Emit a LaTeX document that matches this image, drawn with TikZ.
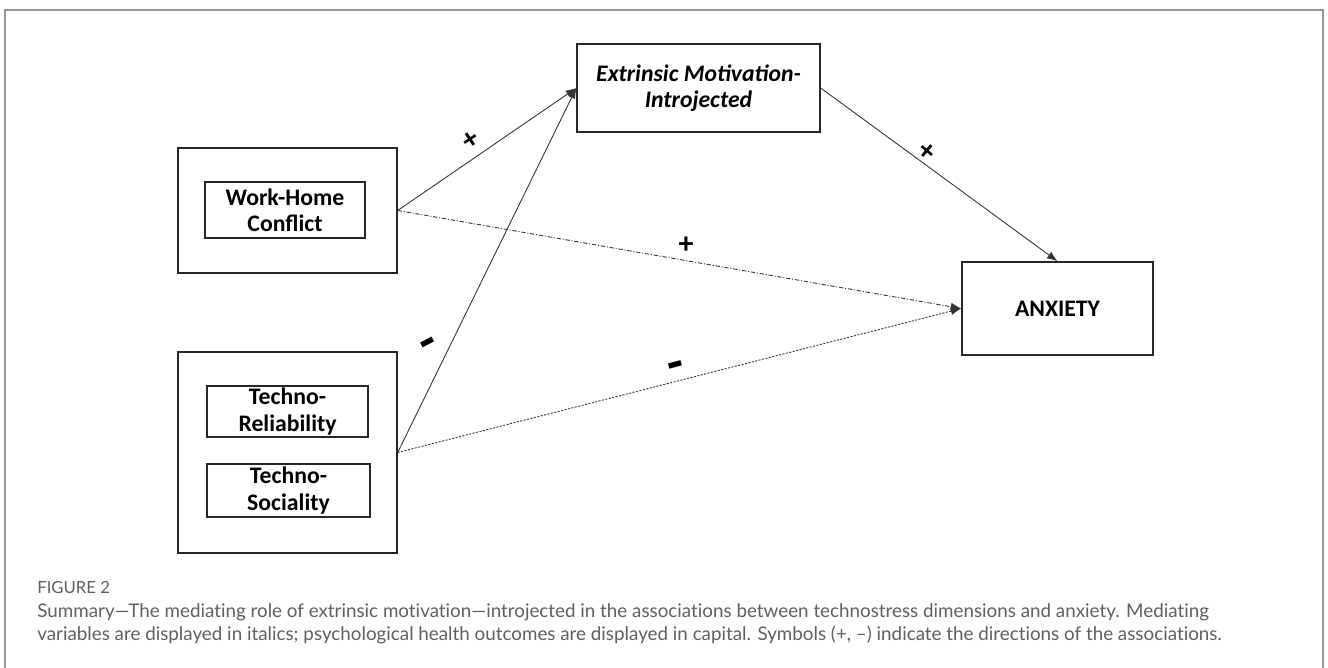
\documentclass[tikz,border=0pt]{standalone}
\usepackage{fontspec}
\setmainfont{Carlito}
\newfontfamily\capfont{Lato}[Ligatures=NoCommon]
\usetikzlibrary{arrows.meta}
\definecolor{capgray}{RGB}{95,95,95}
\definecolor{framegray}{RGB}{150,150,150}
\tikzset{
 box/.style={draw=black!85,line width=0.8pt,inner sep=0pt,align=center},
 arr/.style={draw=black!80,line width=0.5pt,-{Latex[length=6pt,width=4.5pt]}},
 dashdot/.style={dash pattern=on 2.5pt off 1pt on 0.6pt off 1pt},
 dotline/.style={dash pattern=on 1.2pt off 0.8pt},
 sign/.style={inner sep=0pt,font=\fontsize{17}{17}\selectfont\bfseries},
 bar/.style={inner sep=0pt,font=\fontsize{30}{30}\selectfont\bfseries},
 captext/.style={anchor=base west,inner sep=0pt,text=capgray,font=\capfont\fontsize{10.7}{12}\selectfont}
}
\begin{document}
\begin{tikzpicture}[x=0.02cm,y=-0.02cm,font=\fontsize{13.5}{15}\selectfont\bfseries]
\useasboundingbox (0,0) rectangle (1328,668);
\draw[framegray,line width=0.6pt] (5,668) -- (5,10) -- (1323,10) -- (1323,668);
%
\node[box,minimum width=4.38cm,minimum height=2.5cm] (whcout) at (287.5,210.5) {};
\node[box,minimum width=3.2cm,minimum height=1.12cm] (whc) at (285,210) {Work-Home\\Conflict};
%
\node[box,minimum width=4.38cm,minimum height=4.02cm] (tecout) at (287.5,452.5) {};
\node[box,minimum width=3.22cm,minimum height=1.02cm] (trel) at (287.5,411.5) {Techno-\\Reliability};
\node[box,minimum width=3.26cm,minimum height=1.06cm] (tsoc) at (288.5,490.5) {Techno-\\Sociality};
%
\node[box,minimum width=4.86cm,minimum height=1.76cm,font=\fontsize{13.5}{15}\selectfont\bfseries\itshape] (emi) at (698.5,88) {Extrinsic Motivation-\\Introjected};
\node[box,minimum width=3.82cm,minimum height=1.86cm] (anx) at (1057.5,308.5) {ANXIETY};
%
\draw[arr] (whcout.east) -- (emi.west);
\draw[arr] (tecout.east) -- (emi.west);
\draw[arr] (emi.east) -- (anx.north);
\draw[arr,dashdot] (whcout.east) -- (anx.west);
\draw[arr,dotline] (tecout.east) -- (anx.west);
%
\node[sign,rotate=34] (plusa) at (471,140) {+};
\node[sign,rotate=-40] (plusb) at (927,152) {+};
\node[sign] (plusc) at (686,245) {+};
\node[bar,rotate=28] (minusa) at (430,348) {-};
\node[bar,rotate=15] (minusb) at (677,371) {-};
%
\node[captext,font=\capfont\fontsize{9.5}{11}\selectfont] (fig) at (37,593) {FIGURE 2};
\node[captext] (capa) at (37,617) {Summary—The mediating role of extrinsic motivation—introjected in the associations between technostress dimensions and anxiety. Mediating};
\node[captext] (capb) at (37,640) {variables are displayed in italics; psychological health outcomes are displayed in capital. Symbols (+, –) indicate the directions of the associations.};
\end{tikzpicture}
\end{document}
